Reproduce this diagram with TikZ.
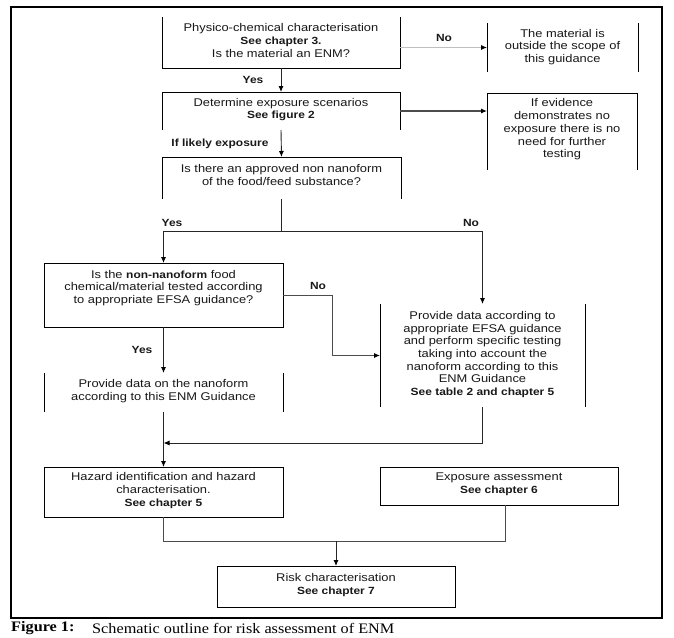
\documentclass[tikz,border=0pt]{standalone}
\usepackage{fontspec}
\usetikzlibrary{arrows.meta,calc}
\newfontfamily\dgfont[FakeStretch=1.15]{Liberation Sans}
\newfontfamily\capfont[FakeStretch=1.12]{Liberation Serif}
\newcommand\dgreg{\dgfont\fontsize{11.2}{12.7}\selectfont}
\newcommand\dgbold{\dgfont\bfseries\fontsize{10.4}{12.7}\selectfont}
\begin{document}
\begin{tikzpicture}[x=1pt,y=-1pt,
  bx/.style={rectangle,inner sep=0pt,outer sep=0pt,draw=none},
  txt/.style={inner sep=0pt,align=center,font=\dgreg,text=black!90},
  lab/.style={inner sep=0pt,font=\dgbold,text=black!90},
  edge/.style={draw=black,line width=0.9pt},
  conn/.style={draw=black!85,line width=0.9pt},
  arr/.style={-{Latex[length=6pt,width=5pt,color=black]}}]
\useasboundingbox (0,0) rectangle (674,637);
\fill[white] (0,0) rectangle (674,637);
\draw[line width=2.6pt] (11,7) rectangle (662,618);

% box shapes
\node[bx,minimum width=238pt,minimum height=51pt] (b1) at (281,42.5) {};
\node[bx,minimum width=151pt,minimum height=49pt] (bOut) at (562.5,47.5) {};
\node[bx,minimum width=238pt,minimum height=38pt] (b2) at (281,111) {};
\node[bx,minimum width=150pt,minimum height=77pt] (bEv) at (562,131.5) {};
\node[bx,minimum width=239pt,minimum height=42pt] (b3) at (281.5,178) {};
\node[bx,minimum width=239pt,minimum height=64pt] (b4) at (163.5,295) {};
\node[bx,minimum width=239pt,minimum height=39pt] (b5) at (163.5,392.5) {};
\node[bx,minimum width=205pt,minimum height=103pt] (b6) at (482.5,355.5) {};
\node[bx,minimum width=239pt,minimum height=50pt] (b7) at (163.5,492) {};
\node[bx,minimum width=238pt,minimum height=38pt] (b8) at (499,486) {};
\node[bx,minimum width=238pt,minimum height=41pt] (b9) at (336,586.5) {};

% visible edges
\draw[edge] (b1.north west) -- (b1.south west) -- (b1.south east) -- (b1.north east);
\draw[edge] (bOut.north west) -- (bOut.south west);
\draw[edge] (bOut.north east) -- (bOut.south east);
\draw[edge] (b2.south west) -- (b2.north west) -- (b2.north east) -- (b2.south east);
\draw[edge] (bEv.south west) -- (bEv.north west) -- (bEv.north east) -- (bEv.south east);
\draw[edge] (b3.south west) -- (b3.north west) -- (b3.north east) -- (b3.south east);
\draw[edge] (b4.north west) rectangle (b4.south east);
\draw[edge] (b5.north west) -- (b5.south west);
\draw[edge] (b5.north east) -- (b5.south east);
\draw[edge] (b6.north west) -- (b6.south west);
\draw[edge] (b6.north east) -- (b6.south east);
\draw[edge] (b7.north west) rectangle (b7.south east);
\draw[edge] (b8.north west) rectangle (b8.south east);
\draw[edge] (b9.north west) rectangle (b9.south east);

% texts
\node[txt] (t1) at (281,40.5) {Physico-chemical characterisation\\{\dgbold See chapter 3.}\\Is the material an ENM?};
\node[txt] (tOut) at (562.5,47) {The material is\\outside the scope of\\this guidance};
\node[txt] (t2) at (281,109.5) {Determine exposure scenarios\\{\dgbold See figure 2}};
\node[txt] (tEv) at (562,129.5) {If evidence\\demonstrates no\\exposure there is no\\need for further\\testing};
\node[txt] (t3) at (281.5,175) {Is there an approved non nanoform\\of the food/feed substance?};
\node[txt] (t4) at (163.5,288) {Is the {\dgbold non-nanoform} food\\chemical/material tested according\\to appropriate EFSA guidance?};
\node[txt] (t5) at (163.5,391) {Provide data on the nanoform\\according to this ENM Guidance};
\node[txt] (t6) at (482.5,354.5) {Provide data according to\\appropriate EFSA guidance\\and perform specific testing\\taking into account the\\nanoform according to this\\ENM Guidance\\{\dgbold See table 2 and chapter 5}};
\node[txt] (t7) at (163.5,490.5) {Hazard identification and hazard\\characterisation.\\{\dgbold See chapter 5}};
\node[txt] (t8) at (499,484.5) {Exposure assessment\\{\dgbold See chapter 6}};
\node[txt] (t9) at (336,585) {Risk characterisation\\{\dgbold See chapter 7}};

% connectors
\draw[conn,arr] (b1.south) -- (b2.north);
\draw[draw=black!25,line width=0.9pt,arr] (b1.east |- bOut.west) -- (bOut.west);
\draw[draw=black!70,line width=1.1pt,arr] (b2.east) -- (b2.east -| bEv.west);
\draw[conn,arr] (b2.south) -- (b3.north);
\coordinate (split) at ($(b3.south)+(0,32)$);
\draw[conn] (b3.south) -- (split);
\draw[conn,arr] (split) -| (b4.north);
\draw[conn,arr] (split) -| (b6.north);
\draw[conn,draw=black!70,arr] (b4.east) -- ++(49,0) |- (b6.west);
\draw[conn,arr] (b4.south) -- (b5.north);
\coordinate (m1) at (b5.south |- 0,443);
\draw[conn] (b5.south) -- (m1);
\draw[conn,arr] (m1) -- (b7.north);
\draw[conn,arr] (b6.south) |- (m1);
\coordinate (m2) at (b9.north |- 0,541);
\draw[conn,draw=black!70] (b7.south) |- (m2);
\draw[conn,draw=black!70] ([xshift=6pt]b8.south) |- (m2);
\draw[conn,arr] (m2) -- (b9.north);

% labels
\node[lab] (lYes1) at (253,80) {Yes};
\node[lab] (lNo1) at (444,38) {No};
\node[lab] (lLikely) at (220,144) {If likely exposure};
\node[lab] (lYes2) at (172,223) {Yes};
\node[lab] (lNo2) at (471,223) {No};
\node[lab] (lNo3) at (318,286) {No};
\node[lab] (lYes3) at (142,350) {Yes};

% caption
\node[anchor=west,inner sep=0pt,font=\capfont\bfseries\fontsize{14.5}{16}\selectfont] (cap1) at (11,628) {Figure 1:};
\node[anchor=west,inner sep=0pt,font=\capfont\fontsize{14.5}{16}\selectfont] (cap2) at (92,628) {Schematic outline for risk assessment of ENM};
\end{tikzpicture}
\end{document}
